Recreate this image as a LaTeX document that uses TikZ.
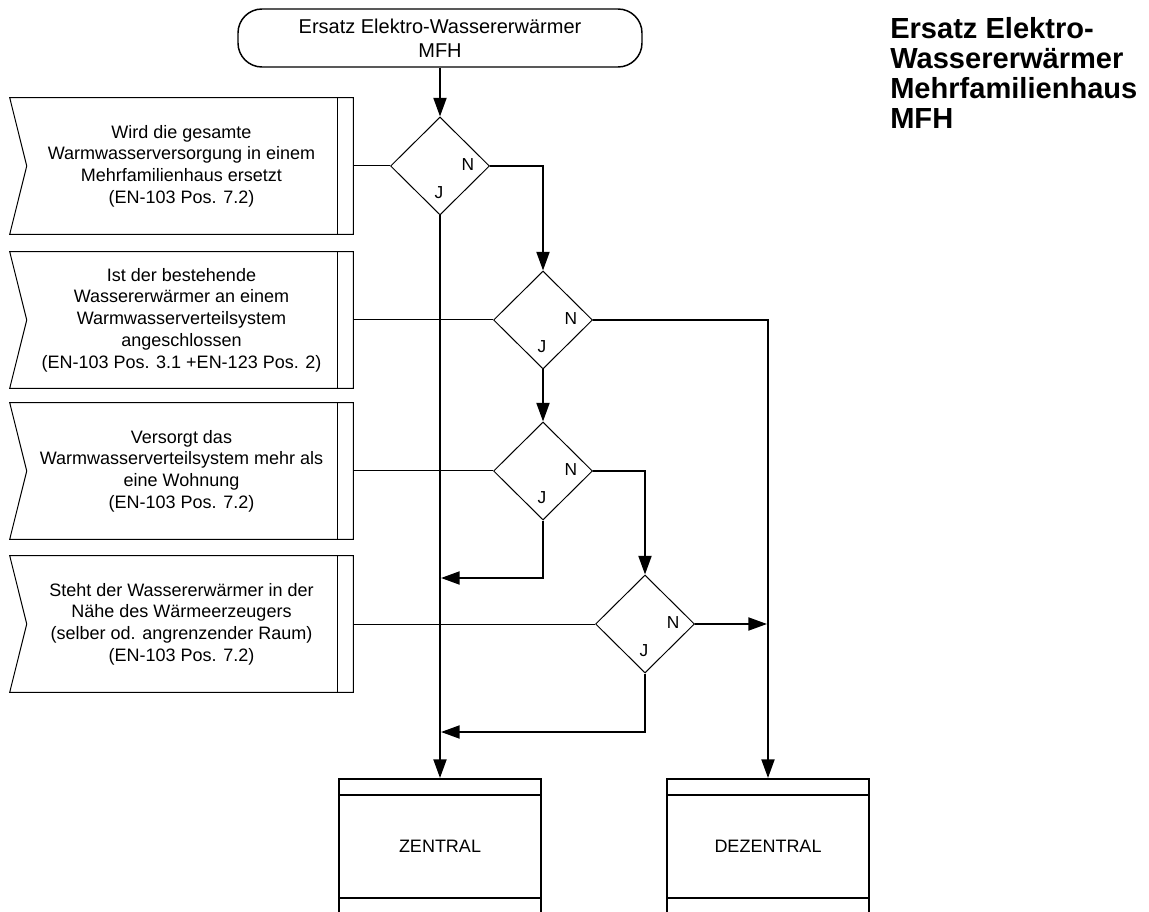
\documentclass[tikz,border=0pt]{standalone}
\usepackage{fontspec}
\setmainfont{Liberation Sans}
\usetikzlibrary{shapes.geometric,arrows.meta,calc}
\tikzset{
  thinline/.style={line width=0.75pt},
  flow/.style={line width=1.5pt,-{Triangle[length=14pt,width=9.75pt]}},
  plainflow/.style={line width=1.5pt},
  termbox/.style={draw,line width=1.1pt,rounded corners=18pt,minimum width={404*0.75pt},minimum height={58*0.75pt},inner sep=0pt,align=center,font=\fontsize{15}{18}\selectfont},
  decbox/.style={diamond,draw,line width=0.75pt,minimum width={99*0.75pt},minimum height={98*0.75pt},inner sep=0pt,aspect=1},
  qbox/.style={minimum width={343*0.75pt},minimum height={136*0.75pt},inner sep=0pt,align=center,font=\fontsize{13.5}{16.3}\selectfont},
  resbox/.style={draw,line width=1.5pt,minimum width={202*0.75pt},minimum height={135*0.75pt},inner sep=0pt,font=\fontsize{13.5}{16}\selectfont},
  lbl/.style={font=\fontsize{13}{15}\selectfont,inner sep=0pt},
  titletext/.style={anchor=north west,inner sep=0pt,align=left,font=\bfseries\fontsize{21.8}{22.6}\selectfont}
}
\newcommand{\qshape}[1]{%
  \draw[thinline] (#1.north west) -- (#1.north east) -- (#1.south east) -- (#1.south west)
    -- ($(#1.west)+(17,0)$) -- cycle;
  \draw[thinline] ($(#1.north east)+(-16,0)$) -- ($(#1.south east)+(-16,0)$);
}
\newcommand{\rshape}[1]{%
  \draw[line width=1.5pt] ($(#1.north west)+(0,17)$) -- ($(#1.north east)+(0,17)$);
  \draw[line width=1.5pt] ($(#1.south west)+(0,-17)$) -- ($(#1.south east)+(0,-17)$);
}
\begin{document}
\begin{tikzpicture}[x=0.75pt,y=-0.75pt]
\clip (0,0) rectangle (1149,912);
\fill[white] (0,0) rectangle (1149,912);

% title
\node[titletext] (title) at (890,17) {Ersatz Elektro-\\Wassererwärmer\\Mehrfamilienhaus\\MFH};

% start
\node[termbox] (term) at (440,38) {Ersatz Elektro-Wassererwärmer\\MFH};

% questions
\node[qbox] (q1) at (181.5,166) {Wird die gesamte\\Warmwasserversorgung in einem\\Mehrfamilienhaus ersetzt\\(EN-103 Pos. 7.2)};
\node[qbox] (q2) at (181.5,320) {Ist der bestehende\\Wassererwärmer an einem\\Warmwasserverteilsystem\\angeschlossen\\(EN-103 Pos. 3.1 +EN-123 Pos. 2)};
\node[qbox] (q3) at (181.5,471) {Versorgt das\\Warmwasserverteilsystem mehr als\\eine Wohnung\\(EN-103 Pos. 7.2)};
\node[qbox] (q4) at (181.5,624) {Steht der Wassererwärmer in der\\Nähe des Wärmeerzeugers\\(selber od. angrenzender Raum)\\(EN-103 Pos. 7.2)};
\qshape{q1}\qshape{q2}\qshape{q3}\qshape{q4}

% decisions
\node[decbox] (d1) at (440,166) {};
\node[decbox] (d2) at (543,320) {};
\node[decbox] (d3) at (543,471) {};
\node[decbox] (d4) at (645,624) {};
\foreach \d in {d1,d2,d3,d4}{
  \node[lbl] (\d n) at ($(\d)+(28,-1)$) {N};
  \node[lbl] (\d j) at ($(\d)+(-1,27)$) {J};
}

% results
\node[resbox] (zen) at (440,846.5) {ZENTRAL};
\node[resbox] (dez) at (768,846.5) {DEZENTRAL};
\rshape{zen}\rshape{dez}

% question links
\draw[thinline] (q1.east) -- (d1.west);
\draw[thinline] (q2.east) -- (d2.west);
\draw[thinline] (q3.east) -- (d3.west);
\draw[thinline] (q4.east) -- (d4.west);

% flow
\coordinate (j3) at (441,578);
\coordinate (j4) at (441,732);
\coordinate (n4) at (767,624);
\draw[flow] (term.south) -- (d1.north);
\draw[flow] (d1.east) -| (d2.north);
\draw[flow] (d1.south) -- (zen.north);
\draw[flow] (d2.east) -| (dez.north);
\draw[flow] (d2.south) -- (d3.north);
\draw[flow] (d3.east) -| (d4.north);
\draw[flow] (d3.south) |- (j3);
\draw[flow] (d4.east) -- (n4);
\draw[flow] (d4.south) |- (j4);
\end{tikzpicture}
\end{document}
